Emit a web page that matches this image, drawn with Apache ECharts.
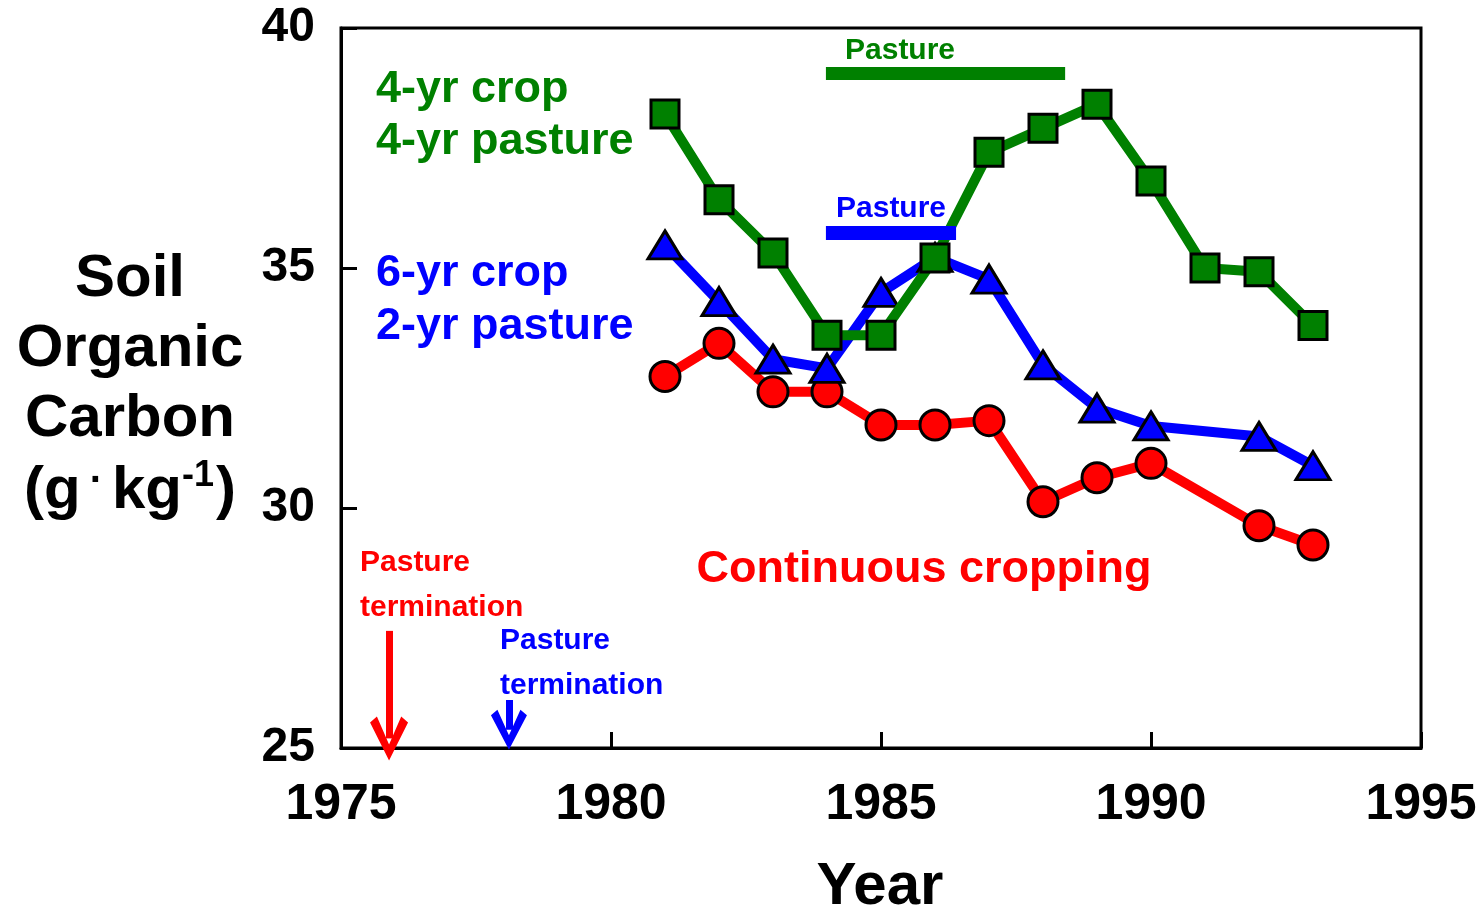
<!DOCTYPE html>
<html>
<head>
<meta charset="utf-8">
<script src="https://cdn.jsdelivr.net/npm/echarts@6/dist/echarts.min.js"></script>
<style>
  html, body { margin: 0; padding: 0; background: #fff; overflow: hidden; }
  #chart { width: 1481px; height: 916px; }
</style>
</head>
<body>
<div id="chart"></div>
<script>
// data
const yearsGreen = [1981, 1982, 1983, 1984, 1985, 1986, 1987, 1988, 1989, 1990, 1991, 1992, 1993];
const socGreen = [38.21, 36.42, 35.31, 33.6, 33.6, 35.21, 37.41, 37.91, 38.41, 36.81, 35.0, 34.92, 33.8];

const yearsBlue = [1981, 1982, 1983, 1984, 1985, 1986, 1987, 1988, 1989, 1990, 1992, 1993];
const socBlue = [35.48, 34.3, 33.1, 32.91, 34.49, 35.22, 34.77, 32.98, 32.08, 31.71, 31.49, 30.88];

const yearsRed = [1981, 1982, 1983, 1984, 1985, 1986, 1987, 1988, 1989, 1990, 1992, 1993];
const socRed = [32.74, 33.43, 32.42, 32.42, 31.73, 31.73, 31.82, 30.13, 30.63, 30.93, 29.63, 29.23];

// pasture periods [start, end, level] and pasture termination arrows [year, top, tip]
const pastureGreen = [1983.98, 1988.41, 39.06];
const pastureBlue = [1983.98, 1986.39, 35.74];
const arrowRed = [1975.89, 27.44, 25.2];
const arrowBlue = [1978.11, 26.0, 25.38];

const xTicks = [1975, 1995, 5];
const yTicks = [25, 40, 5];

const GREEN = '#008000', BLUE = '#0000ff', RED = '#ff0000';
const FONT = '"Liberation Sans", Arial, sans-serif';

const zip = (xs, ys) => xs.map((x, i) => [x, ys[i]]);
const vHead = 'path://M50,0 L100,86 L82,100 L50,36 L18,100 L0,86 Z';

const chart = echarts.init(document.getElementById('chart'));

function txt(x, y, text, color, size, align) {
  return {
    type: 'text', x: x, y: y, silent: true,
    style: {
      text: text, fill: color, font: 'bold ' + size + 'px ' + FONT,
      textAlign: align || 'left', textVerticalAlign: 'middle'
    }
  };
}

const option = {
  animation: false,
  backgroundColor: '#fff',
  grid: {
    left: 341, top: 28, width: 1080, height: 720,
    outerBoundsMode: 'none', containLabel: false,
    show: true, borderColor: '#000', borderWidth: 3
  },
  xAxis: {
    type: 'value', min: xTicks[0], max: xTicks[1], interval: xTicks[2],
    axisLine: { lineStyle: { color: '#000', width: 3 } },
    axisTick: { inside: true, length: 16, lineStyle: { color: '#000', width: 3 } },
    axisLabel: {
      color: '#000', fontSize: 50, fontWeight: 'bold', fontFamily: FONT, margin: 32,
      formatter: (v) => String(v)
    },
    splitLine: { show: false }
  },
  yAxis: {
    type: 'value', min: yTicks[0], max: yTicks[1], interval: yTicks[2],
    axisLine: { show: true, lineStyle: { color: '#000', width: 3 } },
    axisTick: { show: true, inside: true, length: 16, lineStyle: { color: '#000', width: 3 } },
    axisLabel: { color: '#000', fontSize: 48, fontWeight: 'bold', fontFamily: FONT, margin: 26 },
    splitLine: { show: false }
  },
  series: [
    {
      name: 'Continuous cropping', type: 'line', data: zip(yearsRed, socRed),
      symbol: 'circle', symbolSize: 30,
      lineStyle: { color: RED, width: 10 },
      itemStyle: { color: RED, borderColor: '#000', borderWidth: 3 },
      emphasis: { disabled: true }, z: 2
    },
    {
      name: '6-yr crop 2-yr pasture', type: 'line', data: zip(yearsBlue, socBlue),
      symbol: 'triangle', symbolSize: [34, 28],
      lineStyle: { color: BLUE, width: 10 },
      itemStyle: { color: BLUE, borderColor: '#000', borderWidth: 3 },
      emphasis: { disabled: true }, z: 3
    },
    {
      name: '4-yr crop 4-yr pasture', type: 'line', data: zip(yearsGreen, socGreen),
      symbol: 'rect', symbolSize: 28,
      lineStyle: { color: GREEN, width: 10 },
      itemStyle: { color: GREEN, borderColor: '#000', borderWidth: 3 },
      emphasis: { disabled: true }, z: 4
    },
    {
      name: 'annotations', type: 'line', data: [], z: 5, clip: false,
      markLine: {
        silent: true, animation: false,
        label: { show: false },
        emphasis: { disabled: true },
        data: [
          [
            { coord: [pastureGreen[0], pastureGreen[2]], symbol: 'none', lineStyle: { color: GREEN, width: 13, type: 'solid', cap: 'butt' } },
            { coord: [pastureGreen[1], pastureGreen[2]], symbol: 'none' }
          ],
          [
            { coord: [pastureBlue[0], pastureBlue[2]], symbol: 'none', lineStyle: { color: BLUE, width: 14, type: 'solid', cap: 'butt' } },
            { coord: [pastureBlue[1], pastureBlue[2]], symbol: 'none' }
          ],
          [
            { coord: [arrowRed[0], arrowRed[1]], symbol: 'none', lineStyle: { color: RED, width: 7, type: 'solid', cap: 'butt' } },
            { coord: [arrowRed[0], arrowRed[2]], symbol: vHead, symbolSize: [38, 44] }
          ],
          [
            { coord: [arrowBlue[0], arrowBlue[1]], symbol: 'none', lineStyle: { color: BLUE, width: 7, type: 'solid', cap: 'butt' } },
            { coord: [arrowBlue[0], arrowBlue[2]], symbol: vHead, symbolSize: [36, 40] }
          ]
        ]
      }
    }
  ],
  graphic: [
    // y axis title
    txt(130, 279, 'Soil', '#000', 60, 'center'),
    txt(130, 349, 'Organic', '#000', 60, 'center'),
    txt(130, 419, 'Carbon', '#000', 60, 'center'),
    {
      type: 'text', x: 130, y: 491, silent: true,
      style: {
        text: '{a|(g}{d|·}{a|kg}{s|-1}{a|)}',
        textAlign: 'center', textVerticalAlign: 'middle',
        rich: {
          a: { font: 'bold 60px ' + FONT, fill: '#000' },
          d: { font: 'bold 40px ' + FONT, fill: '#000', padding: [0, 9, 18, 9] },
          s: { font: 'bold 36px ' + FONT, fill: '#000', padding: [0, 2, 30, 0] }
        }
      }
    },
    txt(880, 887, 'Year', '#000', 60, 'center'),
    // series labels
    txt(376, 90, '4-yr crop', GREEN, 45),
    txt(376, 142, '4-yr pasture', GREEN, 45),
    txt(376, 274, '6-yr crop', BLUE, 45),
    txt(376, 327, '2-yr pasture', BLUE, 45),
    txt(924, 570, 'Continuous cropping', RED, 45, 'center'),
    // pasture notes
    txt(845, 51, 'Pasture', GREEN, 30),
    txt(836, 209, 'Pasture', BLUE, 30),
    txt(360, 563, 'Pasture', RED, 30),
    txt(360, 608, 'termination', RED, 30),
    txt(500, 641, 'Pasture', BLUE, 30),
    txt(500, 686, 'termination', BLUE, 30)
  ]
};

chart.setOption(option);
</script>
</body>
</html>
